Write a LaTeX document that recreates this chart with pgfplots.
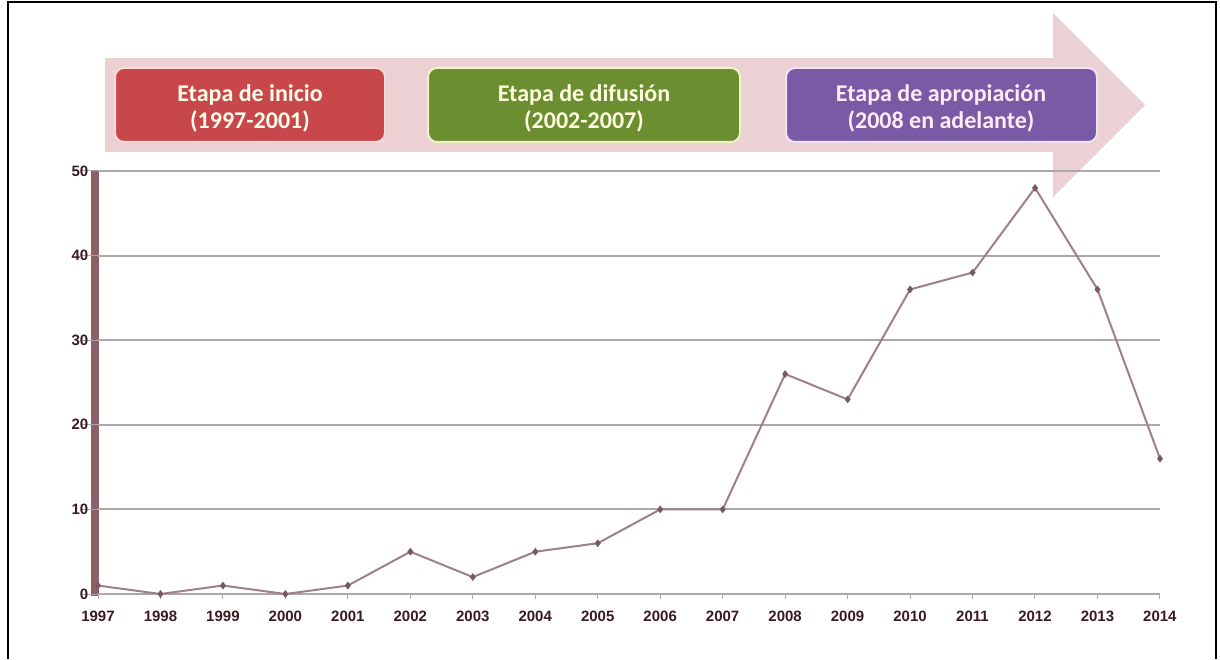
\documentclass[border=0pt]{standalone}
\usepackage{fontspec}
\setmainfont{Liberation Sans}
\newfontfamily\carlito{Carlito}
\usepackage{pgfplots}
\pgfplotsset{compat=1.18}
\definecolor{band}{HTML}{EBD0D4}
\definecolor{redbox}{HTML}{C8474B}
\definecolor{redline}{HTML}{F8DCD4}
\definecolor{greenbox}{HTML}{6B8E31}
\definecolor{greenline}{HTML}{F2F2C8}
\definecolor{purplebox}{HTML}{7A5AA5}
\definecolor{purpleline}{HTML}{F2E2F8}
\definecolor{linec}{HTML}{9E8086}
\definecolor{markc}{HTML}{765A60}
\definecolor{ybarc}{HTML}{8E6066}
\definecolor{gridc}{HTML}{A9A9A9}
\definecolor{labc}{HTML}{3B1A1F}
\begin{document}
\begin{tikzpicture}[x=1pt,y=1pt]
\useasboundingbox (0,0) rectangle (1220,659);
\draw[line width=1.5pt] (8,0) -- (8,657) -- (1216,657) -- (1216,0);
% arrow
\fill[band] (105,507) rectangle (1054,601);
\fill[band] (1053,646) -- (1145,554) -- (1053,462) -- cycle;
% boxes
\draw[draw=redline, fill=redbox, line width=2pt, rounded corners=9pt] (115,517) rectangle (385,591);
\node[text=white!92!yellow, font=\carlito\bfseries\fontsize{24}{27}\selectfont, align=center] at (250,551) {Etapa de inicio\\(1997-2001)};
\draw[draw=greenline, fill=greenbox, line width=2pt, rounded corners=9pt] (428,517) rectangle (740,591);
\node[text=white!88!yellow, font=\carlito\bfseries\fontsize{24}{27}\selectfont, align=center] at (584,551) {Etapa de difusión\\(2002-2007)};
\draw[draw=purpleline, fill=purplebox, line width=2pt, rounded corners=9pt] (786,517) rectangle (1097,591);
\node[text=white!92!magenta, font=\carlito\bfseries\fontsize{24}{27}\selectfont, align=center] at (941,551) {Etapa de apropiación\\(2008 en adelante)};
% y bar
\draw[draw=ybarc, line width=8pt] (94.5,63) -- (94.5,488);
\begin{axis}[
  at={(98pt,65pt)}, anchor=south west,
  scale only axis, width=1062pt, height=423pt,
  xmin=1997, xmax=2014, ymin=0, ymax=50,
  axis x line=bottom, axis y line=left,
  x axis line style={draw=gridc, line width=2pt, -},
  y axis line style={draw=none},
  xtick={1997,...,2014},
  ytick={0,10,...,50},
  tick align=outside,
  xtick style={draw=gridc, line width=1pt, /pgfplots/major tick length=5pt},
  ytick style={draw=gridc, line width=1pt, /pgfplots/major tick length=17pt},
  ymajorgrids, grid style={draw=gridc, line width=2pt},
  /pgf/number format/assume math mode=true,
  /pgf/number format/1000 sep={},
  ticklabel style={text=labc, font=\bfseries\fontsize{15}{17}\selectfont},
  xticklabel style={yshift=-9pt},
  yticklabel style={xshift=-2pt},
  clip=false,
]
\addplot[color=linec, line width=2pt, mark=diamond*, mark size=3.5pt, mark options={fill=markc, draw=markc, line width=0.5pt}] coordinates {
(1997,1) (1998,0) (1999,1) (2000,0) (2001,1) (2002,5) (2003,2) (2004,5) (2005,6)
(2006,10) (2007,10) (2008,26) (2009,23) (2010,36) (2011,38) (2012,48) (2013,36) (2014,16)
};
\end{axis}
\end{tikzpicture}
\end{document}
